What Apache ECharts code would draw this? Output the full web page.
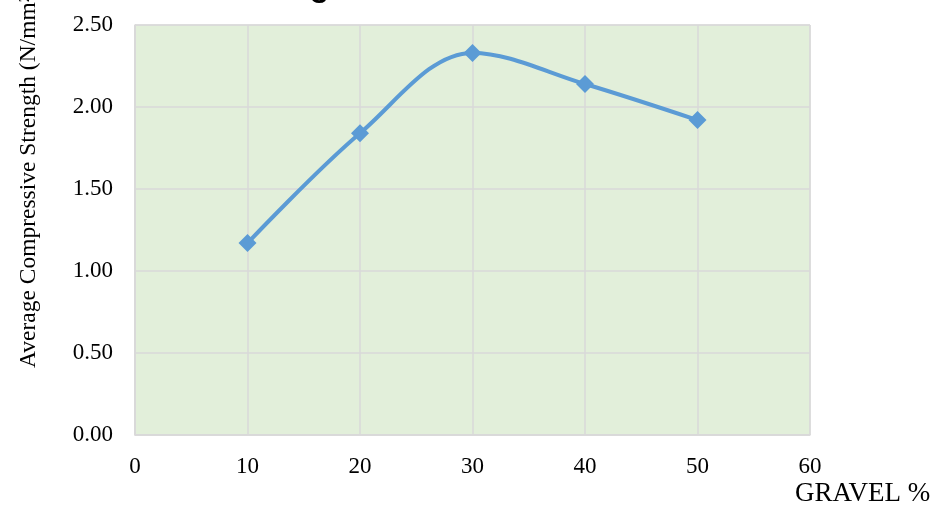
<!DOCTYPE html>
<html>
<head>
<meta charset="utf-8">
<title>Average Compressive Strength vs Gravel %</title>
<script src="https://cdn.jsdelivr.net/npm/echarts@6/dist/echarts.min.js"></script>
<style>
  html, body { margin: 0; padding: 0; background: #fff; }
  #chart { width: 941px; height: 508px; }
</style>
</head>
<body>
<div id="chart"></div>
<script>
// gravel content (%) and measured strength (N/mm²)
const gravel = [10, 20, 30, 40, 50];
const strength = [1.17, 1.84, 2.33, 2.14, 1.92];
const xTicks = [0, 10, 20, 30, 40, 50, 60];
const yTicks = [0, 0.5, 1, 1.5, 2, 2.5];

const serif = '"Liberation Serif", "Times New Roman", serif';

let chart = echarts.init(document.getElementById('chart'));

let option = {
    animation: false,
    // title sits mostly above the visible area, only the descender shows
    title: {
        text: 'Strength',
        left: 228,
        top: -29,
        padding: 0,
        textStyle: {
            fontFamily: '"Liberation Sans", Arial, sans-serif',
            fontWeight: 'bold',
            fontSize: 32,
            color: '#000'
        }
    },
    grid: {
        left: 135,
        right: 131,
        top: 25,
        bottom: 73,
        show: true,
        backgroundColor: '#e2efda',
        borderColor: '#d9d9d9',
        borderWidth: 1
    },
    xAxis: {
        type: 'value',
        min: xTicks[0],
        max: xTicks[xTicks.length - 1],
        interval: 10,
        axisLine: { show: true, lineStyle: { color: '#d9d9d9', width: 1.5 } },
        axisTick: { show: false },
        splitLine: { show: true, lineStyle: { color: '#d9d9d9', width: 1.5 } },
        axisLabel: {
            margin: 20,
            color: '#000',
            fontFamily: serif,
            fontSize: 23
        }
    },
    yAxis: {
        type: 'value',
        min: yTicks[0],
        max: yTicks[yTicks.length - 1],
        interval: 0.5,
        axisLine: { show: true, lineStyle: { color: '#d9d9d9', width: 1.5 } },
        axisTick: { show: false },
        splitLine: { show: true, lineStyle: { color: '#d9d9d9', width: 1.5 } },
        axisLabel: {
            margin: 22,
            color: '#000',
            fontFamily: serif,
            fontSize: 23,
            formatter: v => v.toFixed(2)
        }
    },
    graphic: [
        {
            type: 'text',
            x: 29,
            y: 368,
            rotation: Math.PI / 2,
            style: {
                text: 'Average Compressive Strength (N/mm²)',
                fontFamily: serif,
                fontSize: 23.5,
                fill: '#000',
                align: 'left',
                verticalAlign: 'middle'
            }
        },
        {
            type: 'text',
            x: 795,
            y: 494,
            style: {
                text: 'GRAVEL %',
                fontFamily: serif,
                fontSize: 27,
                fill: '#000',
                align: 'left',
                verticalAlign: 'middle'
            }
        }
    ],
    series: [{
        type: 'line',
        data: gravel.map((g, i) => [g, strength[i]]),
        smooth: 0.35,
        symbol: 'diamond',
        symbolSize: 18,
        lineStyle: { color: '#5b9bd5', width: 4 },
        itemStyle: { color: '#5b9bd5' }
    }]
};

chart.setOption(option);
</script>
</body>
</html>
